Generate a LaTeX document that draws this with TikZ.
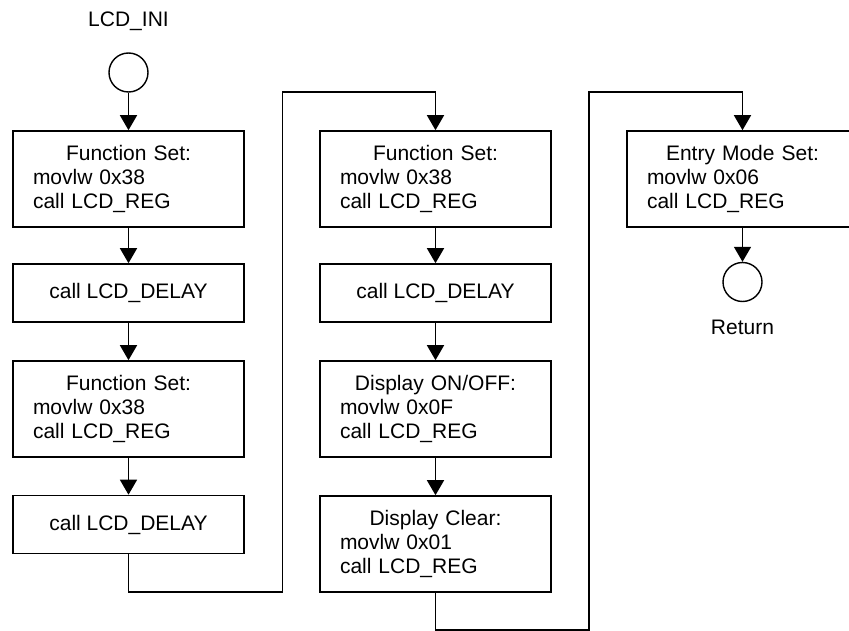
\documentclass[tikz,border=0pt]{standalone}
\usepackage{fontspec}
\setmainfont{Liberation Sans}
\usetikzlibrary{arrows.meta}
\begin{document}
\begin{tikzpicture}[x=1pt,y=-1pt,
  every node/.style={font=\fontsize{21}{24}\selectfont},
  bigbox/.style={draw,line width=1.6pt,minimum width=231pt,minimum height=96pt,text width=191pt,inner xsep=20pt,inner ysep=0pt,align=left},
  smallbox/.style={draw,line width=1.6pt,minimum width=231pt,minimum height=58pt,inner sep=0pt,align=center},
  term/.style={draw,circle,line width=1.4pt,minimum size=39pt,inner sep=0pt},
  lbl/.style={inner sep=0pt},
  arr/.style={line width=1.6pt,-{Triangle[length=15pt,width=17pt]}},
  ln/.style={line width=1.6pt}]
\clip (0,0) rectangle (849,631);
\useasboundingbox (0,0) rectangle (849,631);
\newcommand{\ctr}[1]{\makebox[191pt][c]{#1}}
% column 1
\node[lbl] (tini) at (128.5,21) {LCD\_INI};
\node[term] (c1) at (128.5,72.5) {};
\node[bigbox] (b11) at (128.5,179) {\ctr{Function Set:}\\movlw 0x38\\call LCD\_REG};
\node[smallbox] (b12) at (128.5,293) {call LCD\_DELAY};
\node[bigbox] (b13) at (128.5,409) {\ctr{Function Set:}\\movlw 0x38\\call LCD\_REG};
\node[smallbox] (b14) at (128.5,524.5) {call LCD\_DELAY};
% column 2
\node[bigbox] (b21) at (435.5,179) {\ctr{Function Set:}\\movlw 0x38\\call LCD\_REG};
\node[smallbox] (b22) at (435.5,293) {call LCD\_DELAY};
\node[bigbox] (b23) at (435.5,409) {\ctr{Display ON/OFF:}\\movlw 0x0F\\call LCD\_REG};
\node[bigbox] (b24) at (435.5,544) {\ctr{Display Clear:}\\movlw 0x01\\call LCD\_REG};
% column 3
\node[bigbox] (b31) at (742.5,179) {\ctr{Entry Mode Set:}\\movlw 0x06\\call LCD\_REG};
\node[term] (c3) at (742.5,282) {};
\node[lbl] (tret) at (742.5,327) {Return};
% junction points
\coordinate (j1) at (282.5,592);
\coordinate (j2) at (282.5,92);
\coordinate (k1) at (589,630);
\coordinate (k2) at (589,92);
% connectors
\draw[arr] (c1) -- (b11);
\draw[arr] (b11) -- (b12);
\draw[arr] (b12) -- (b13);
\draw[arr] (b13) -- (b14);
\draw[arr] (b14.south) |- (j1) -- (j2) -| (b21.north);
\draw[arr] (b21) -- (b22);
\draw[arr] (b22) -- (b23);
\draw[arr] (b23) -- (b24);
\draw[arr] (b24.south) |- (k1) -- (k2) -| (b31.north);
\draw[arr] (b31) -- (c3);
\end{tikzpicture}
\end{document}
